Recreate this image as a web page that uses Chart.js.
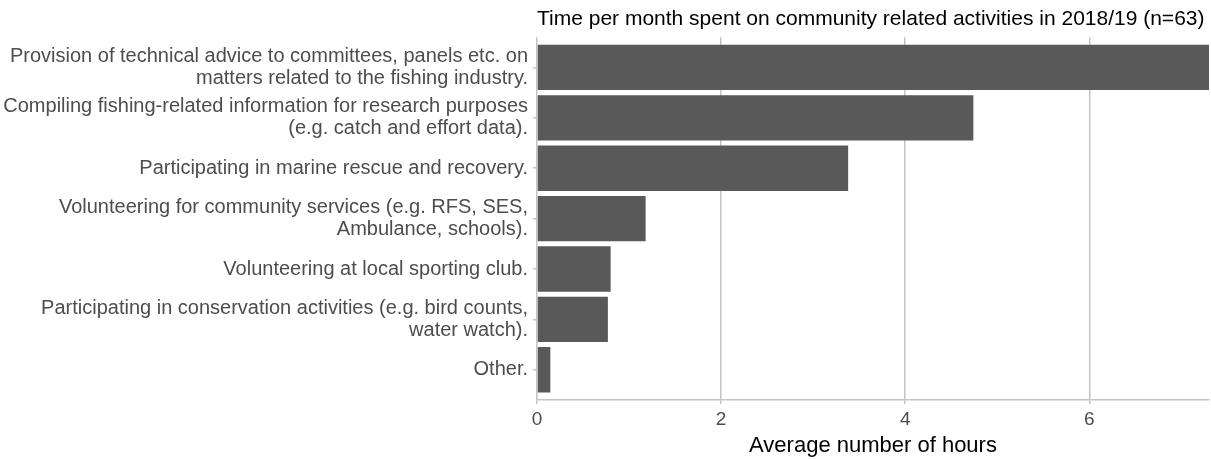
<!DOCTYPE html>
<html>
<head>
<meta charset="utf-8">
<script src="https://cdn.jsdelivr.net/npm/chart.js@4"></script>
<style>
  html, body { margin: 0; padding: 0; background: #fff; }
  #wrap { width: 1211px; height: 460px; position: relative; }
</style>
</head>
<body>
<div id="wrap"><canvas id="chartCommunity"></canvas></div>
<script>
const categories = [
  ["Provision of technical advice to committees, panels etc. on", "matters related to the fishing industry."],
  ["Compiling fishing-related information for research purposes", "(e.g. catch and effort data)."],
  "Participating in marine rescue and recovery.",
  ["Volunteering for community services (e.g. RFS, SES,", "Ambulance, schools)."],
  "Volunteering at local sporting club.",
  ["Participating in conservation activities (e.g. bird counts,", "water watch)."],
  "Other.",
];
const hours = [7.3, 4.74, 3.38, 1.18, 0.8, 0.77, 0.145];
const hourTicks = [0, 2, 4, 6];

const fontFamily = '"Liberation Sans", Arial, sans-serif';
const gridGrey = "#c4c4c4";
const labelGrey = "#4d4d4d";

new Chart(document.getElementById("chartCommunity"), {
  type: "bar",
  data: {
    labels: categories,
    datasets: [
      {
        data: hours,
        backgroundColor: "#595959",
        borderWidth: 0,
        categoryPercentage: 0.9,
        barPercentage: 1,
      },
    ],
  },
  options: {
    indexAxis: "y",
    responsive: true,
    maintainAspectRatio: false,
    animation: false,
    layout: { padding: { right: 2 } },
    plugins: {
      legend: { display: false },
      tooltip: { enabled: false },
      title: {
        display: true,
        text: "Time per month spent on community related activities in 2018/19 (n=63)",
        align: "start",
        fullSize: false,
        color: "#000",
        font: { family: fontFamily, size: 21, weight: "normal" },
        padding: { top: 7, bottom: 5 },
      },
    },
    scales: {
      x: {
        min: 0,
        max: 7.3,
        afterBuildTicks: (axis) => {
          axis.ticks = hourTicks.map((v) => ({ value: v }));
        },
        afterFit: (axis) => {
          axis.height = 60;
        },
        ticks: {
          color: labelGrey,
          padding: 4,
          font: { family: fontFamily, size: 19 },
        },
        grid: {
          color: gridGrey,
          lineWidth: 1.5,
          tickLength: 4,
        },
        border: { display: true, color: gridGrey, width: 1.5 },
        title: {
          display: true,
          text: "Average number of hours",
          color: "#000",
          font: { family: fontFamily, size: 22 },
          padding: { top: 0, bottom: 1 },
        },
      },
      y: {
        // ggplot style: 0.6 band of space above the first and below the last bar
        afterBuildTicks: (axis) => {
          axis._startValue = -0.6;
          axis._valueRange = categories.length - 1 + 1.2;
        },
        afterFit: (axis) => {
          axis.width = 537;
        },
        ticks: {
          color: labelGrey,
          padding: 5,
          font: { family: fontFamily, size: 20, lineHeight: 1.1 },
        },
        grid: {
          display: true,
          drawOnChartArea: false,
          offset: false,
          color: gridGrey,
          lineWidth: 1.5,
          tickLength: 4,
        },
        border: { display: false },
      },
    },
  },
});
</script>
</body>
</html>
